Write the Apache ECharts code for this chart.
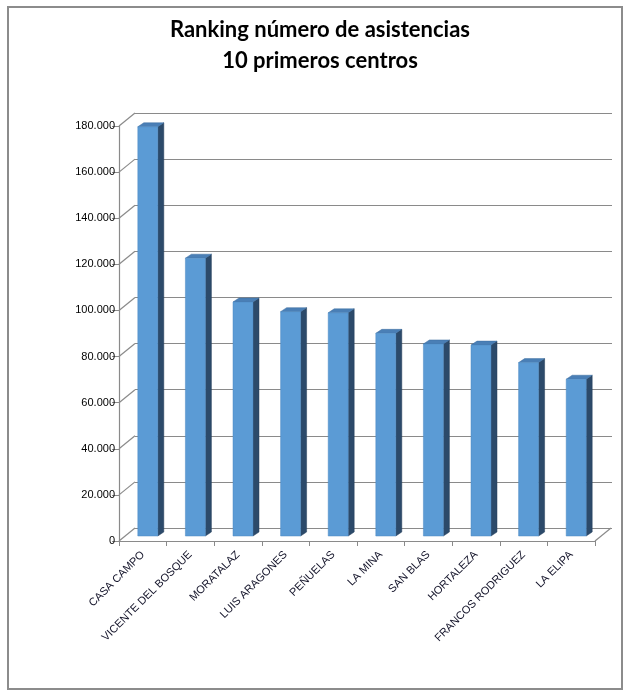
<!DOCTYPE html>
<html>
<head>
<meta charset="utf-8">
<script src="https://cdn.jsdelivr.net/npm/echarts@6/dist/echarts.min.js"></script>
<style>
  html, body { margin: 0; padding: 0; background: #fff; }
  #main { width: 640px; height: 699px; }
</style>
</head>
<body>
<div id="main"></div>
<script>
// Data
var centros = ['CASA CAMPO', 'VICENTE DEL BOSQUE', 'MORATALAZ', 'LUIS ARAGONES', 'PEÑUELAS',
               'LA MINA', 'SAN BLAS', 'HORTALEZA', 'FRANCOS RODRIGUEZ', 'LA ELIPA'];
var asistencias = [177500, 120500, 101500, 97300, 96800, 87900, 83300, 82800, 75200, 68000];
var yTicks = [0, 20000, 40000, 60000, 80000, 100000, 120000, 140000, 160000, 180000];

var chart = echarts.init(document.getElementById('main'));

// fake 3D depth (pixels)
var DX = 16, DY = 13;

function fmt(v) {
    return String(v).replace(/\B(?=(\d{3})+(?!\d))/g, '.');
}

function renderBar(params, api) {
    var cat = api.value(0);
    var base = api.coord([cat, 0]);
    var top = api.coord([cat, api.value(1)]);
    var w = 20, sx = 6, sy = 4;
    var x = base[0] - w / 2 + 5;
    var yb = base[1] - 5;
    var yt = top[1] - 5;
    return {
        type: 'group',
        children: [
            { type: 'polygon', shape: { points: [[x + w, yt], [x + w + sx, yt - sy], [x + w + sx, yb - sy], [x + w, yb]] },
              style: { fill: '#2c4a6a', stroke: '#243f5b', lineWidth: 0.5 } },
            { type: 'polygon', shape: { points: [[x, yt], [x + sx, yt - sy], [x + w + sx, yt - sy], [x + w, yt]] },
              style: { fill: '#4a7fb6', stroke: '#3d6c9e', lineWidth: 0.5 } },
            { type: 'rect', shape: { x: x, y: yt, width: w, height: yb - yt },
              style: { fill: '#5b9bd5', stroke: '#4f8bc2', lineWidth: 0.5 } }
        ]
    };
}

function renderWall(params, api) {
    var p = api.coord([0, api.value(1)]);
    var half = api.size([1, 0])[0] / 2;
    var left = p[0] - half;
    var lines = [
        { type: 'line', shape: { x1: left, y1: p[1], x2: left + DX, y2: p[1] - DY },
          style: { stroke: '#8a8a8a', lineWidth: 1.2 } }
    ];
    if (api.value(1) === 0) {
        var right = api.coord([centros.length - 1, 0])[0] + half;
        lines.push({ type: 'line', shape: { x1: right, y1: p[1], x2: right + DX, y2: p[1] - DY },
                     style: { stroke: '#8a8a8a', lineWidth: 1.2 } });
    }
    return { type: 'group', children: lines };
}

var option = {
    animation: false,
    backgroundColor: '#fff',
    title: {
        text: 'Ranking número de asistencias\n10 primeros centros',
        left: 'center',
        top: 9,
        textStyle: { fontFamily: 'Lato', fontWeight: 'bold', fontSize: 22, lineHeight: 31, color: '#000' }
    },
    graphic: [
        { type: 'rect', shape: { x: 8, y: 7, width: 614, height: 682 },
          style: { fill: 'none', stroke: '#8c8c8c', lineWidth: 2 }, z: -1 }
    ],
    grid: [
        { left: 119, right: 45, top: 126, bottom: 158 },
        { left: 135, right: 28, top: 113, bottom: 171 }
    ],
    xAxis: [
        {
            type: 'category', gridIndex: 0, data: centros,
            axisLine: { lineStyle: { color: '#8a8a8a', width: 1.2 } },
            axisTick: { show: true, length: 5, lineStyle: { color: '#8a8a8a' } },
            axisLabel: {
                rotate: 45, interval: 0, margin: 12, color: '#14142a',
                fontFamily: 'Liberation Sans Narrow, Liberation Sans', fontSize: 11
            }
        },
        { type: 'category', gridIndex: 1, data: centros, show: false }
    ],
    yAxis: [
        {
            type: 'value', gridIndex: 0, min: 0, max: 180000, interval: 20000,
            splitLine: { show: false },
            axisLine: { show: true, lineStyle: { color: '#8a8a8a', width: 1.2 } },
            axisTick: { show: true, length: 7, lineStyle: { color: '#8a8a8a' } },
            axisLabel: {
                margin: 4, color: '#000', fontFamily: 'Liberation Sans', fontSize: 11,
                formatter: function (v) { return fmt(v); }
            }
        },
        {
            type: 'value', gridIndex: 1, min: 0, max: 180000, interval: 20000,
            axisLine: { show: false }, axisTick: { show: false }, axisLabel: { show: false },
            splitLine: { show: true, lineStyle: { color: '#8a8a8a', width: 1.2 } }
        }
    ],
    series: [
        {
            type: 'custom', name: 'paredes', xAxisIndex: 0, yAxisIndex: 0,
            renderItem: renderWall, silent: true, z: 1,
            encode: { x: 0, y: 1 },
            data: yTicks.map(function (v) { return [0, v]; })
        },
        {
            type: 'custom', name: 'Asistencias', xAxisIndex: 0, yAxisIndex: 0,
            renderItem: renderBar, z: 5,
            encode: { x: 0, y: 1 },
            data: asistencias.map(function (v, i) { return [i, v]; })
        }
    ]
};

chart.setOption(option);
</script>
</body>
</html>
